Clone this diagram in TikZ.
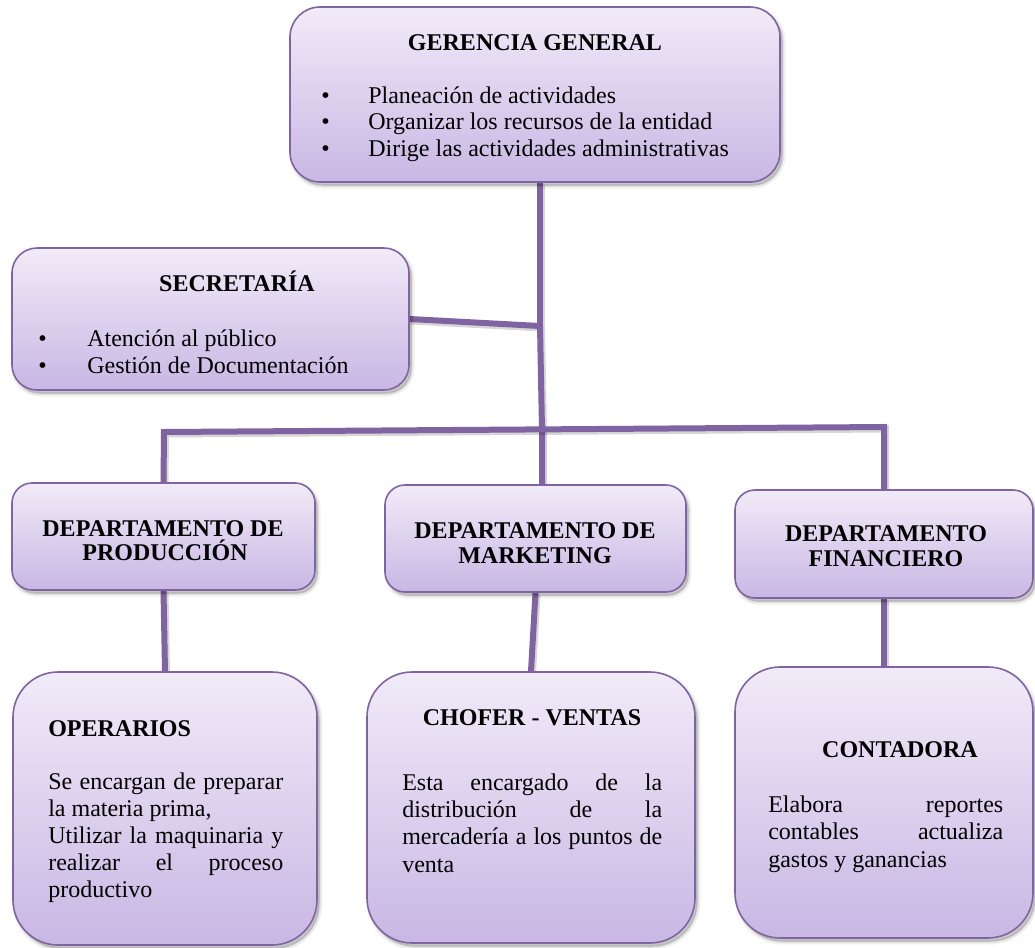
\documentclass[tikz,border=0pt]{standalone}
\usepackage{fontspec}
\setmainfont{Liberation Serif}
\newlength\pxu \setlength\pxu{0.75pt}
\definecolor{frame}{RGB}{128,100,162}
\definecolor{filltop}{RGB}{241,235,248}
\definecolor{fillbot}{RGB}{200,183,228}
\pgfdeclarelayer{bg}
\pgfsetlayers{bg,main}
\tikzset{
  shadowpass/.style 2 args={preaction={fill=black, draw=black, opacity=#1,
      line width=#2\pxu, transform canvas={shift={(2.5\pxu,-3.5\pxu)}}}},
  softshadow/.style={shadowpass={.05}{6}, shadowpass={.06}{3}, shadowpass={.08}{0.1}},
  orgbox/.style n args={3}{softshadow, draw=frame, line width=1.6\pxu,
    top color=filltop, bottom color=fillbot, inner sep=0pt,
    minimum width=#1\pxu, minimum height=#2\pxu, rounded corners=#3\pxu},
  head/.style={font=\bfseries\fontsize{18}{21}\selectfont, inner sep=0pt, anchor=base},
  headl/.style={head, anchor=base west},
  body/.style={font=\fontsize{18}{21}\selectfont, inner sep=0pt, anchor=base west},
  link/.style={draw=frame, line width=6\pxu, line join=miter,
    preaction={draw=black, opacity=.16, line width=7\pxu,
      transform canvas={shift={(1.5\pxu,-2\pxu)}}}},
}
\newcommand\jline[2]{\makebox[#1\pxu][s]{#2}}
\begin{document}
\begin{tikzpicture}[x=0.75pt,y=-0.75pt]
\useasboundingbox (0,0) rectangle (1035,947);
\begin{pgfonlayer}{bg}
  \fill[white] (0,0) rectangle (1035,947);
\end{pgfonlayer}

% boxes
\node[orgbox={490}{175}{30}] (ger)  at (535,94.5) {};
\node[orgbox={397}{142}{25}] (sec)  at (210.5,319) {};
\node[orgbox={303}{107}{20}] (prod) at (163.5,536.5) {};
\node[orgbox={301}{107}{20}] (mkt)  at (535.5,538.5) {};
\node[orgbox={298}{108}{20}] (fin)  at (884,544) {};
\node[orgbox={304}{273}{45}] (oper) at (165,808.5) {};
\node[orgbox={328}{271}{45}] (chof) at (531,807.5) {};
\node[orgbox={298}{271}{45}] (cont) at (884,802.5) {};

% Gerencia general
\node[head] (gt) at (535,50) {GERENCIA GENERAL};
\node[body] (gb1) at (321,103) {•};
\node[body] (gb2) at (321,129) {•};
\node[body] (gb3) at (321,156) {•};
\node[body] (g1) at (368,103) {Planeación de actividades};
\node[body] (g2) at (368,129) {Organizar los recursos de la entidad};
\node[body] (g3) at (368,156) {Dirige las actividades administrativas};

% Secretaria
\node[head] (st) at (237,291) {SECRETARÍA};
\node[body] (sb1) at (38,346) {•};
\node[body] (sb2) at (38,373) {•};
\node[body] (s1) at (87,346) {Atención al público};
\node[body] (s2) at (87,373) {Gestión de Documentación};

% departments
\node[head] (p1) at (163,536) {DEPARTAMENTO DE};
\node[head] (p2) at (165,560) {PRODUCCIÓN};
\node[head] (m1) at (535,538) {DEPARTAMENTO DE};
\node[head] (m2) at (535,563) {MARKETING};
\node[head] (f1) at (886,541) {DEPARTAMENTO};
\node[head] (f2) at (886,566) {FINANCIERO};

% Operarios
\node[headl] (ot) at (48,736) {OPERARIOS};
\node[body] (o1) at (48,789) {\jline{235}{Se encargan de preparar}};
\node[body] (o2) at (48,816) {la materia prima,};
\node[body] (o3) at (48,843) {\jline{235}{Utilizar la maquinaria y}};
\node[body] (o4) at (48,870) {\jline{235}{realizar el proceso}};
\node[body] (o5) at (48,897) {productivo};

% Chofer - ventas
\node[head] (ct) at (532,725) {CHOFER - VENTAS};
\node[body] (c1) at (402,790) {\jline{260}{Esta encargado de la}};
\node[body] (c2) at (402,817) {\jline{260}{distribución de la}};
\node[body] (c3) at (402,844) {\jline{260}{mercadería a los puntos de}};
\node[body] (c4) at (402,872) {venta};

% Contadora
\node[head] (kt) at (900,757) {CONTADORA};
\node[body] (k1) at (768,812) {\jline{235}{Elabora reportes}};
\node[body] (k2) at (768,839) {\jline{235}{contables actualiza}};
\node[body] (k3) at (768,867) {gastos y ganancias};

% connectors
\coordinate (j1) at (540,326);
\coordinate (j2) at (542,430);
\coordinate (bl) at (164,432);
\coordinate (br) at (884,427);
\begin{pgfonlayer}{bg}
  \draw[link] (ger.south -| j1) -- (j1);
  \draw[link] (sec.east) -- (j1);
  \draw[link] (j1) -- (j2) -- (j2 |- mkt.north);
  \draw[link] (prod.north) -- (bl) -- (br) -- (fin.north);
  \draw[link] (prod.south) -- (oper.north);
  \draw[link] (mkt.south) -- (chof.north);
  \draw[link] (fin.south) -- (cont.north);
\end{pgfonlayer}
\end{tikzpicture}
\end{document}
